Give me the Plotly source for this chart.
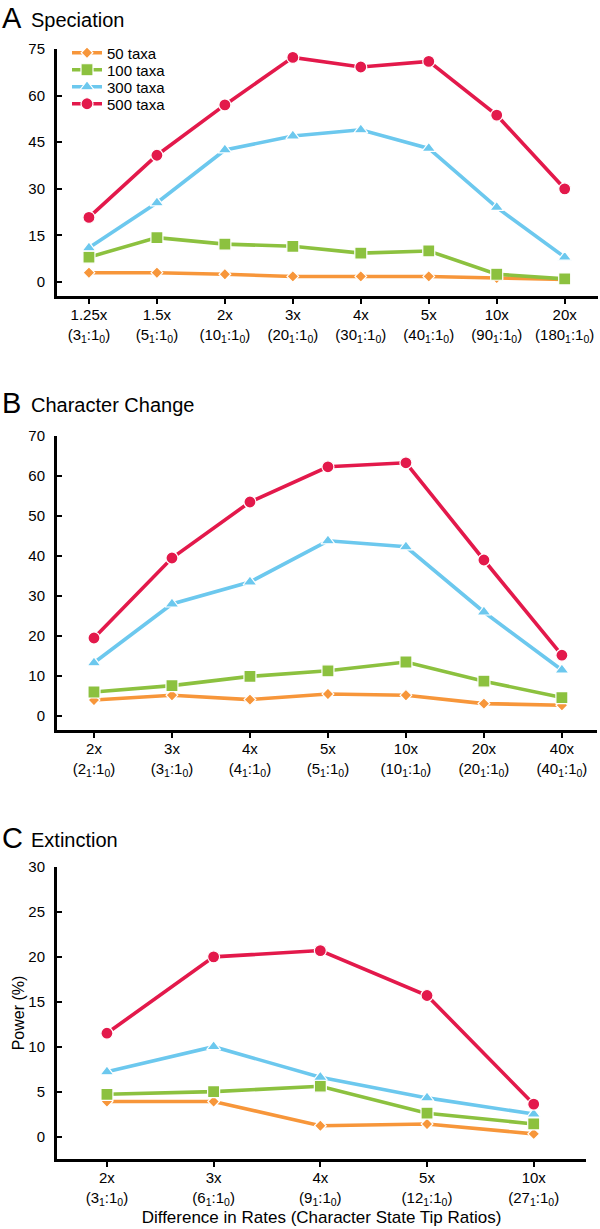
import plotly.graph_objects as go

# ---------------- data ----------------
series_names = ["50 taxa", "100 taxa", "300 taxa", "500 taxa"]

spec_ticks = ["1.25x<br>(3<sub>1</sub>:1<sub>0</sub>)", "1.5x<br>(5<sub>1</sub>:1<sub>0</sub>)",
              "2x<br>(10<sub>1</sub>:1<sub>0</sub>)", "3x<br>(20<sub>1</sub>:1<sub>0</sub>)",
              "4x<br>(30<sub>1</sub>:1<sub>0</sub>)", "5x<br>(40<sub>1</sub>:1<sub>0</sub>)",
              "10x<br>(90<sub>1</sub>:1<sub>0</sub>)", "20x<br>(180<sub>1</sub>:1<sub>0</sub>)"]
spec_50 = [3.0, 3.0, 2.5, 1.8, 1.8, 1.8, 1.3, 0.8]
spec_100 = [8.0, 14.3, 12.2, 11.5, 9.3, 10.0, 2.5, 1.0]
spec_300 = [11.0, 25.5, 42.5, 47.0, 49.0, 43.0, 24.0, 8.0]
spec_500 = [20.8, 40.8, 57.0, 72.3, 69.2, 71.0, 53.7, 30.0]

char_ticks = ["2x<br>(2<sub>1</sub>:1<sub>0</sub>)", "3x<br>(3<sub>1</sub>:1<sub>0</sub>)",
              "4x<br>(4<sub>1</sub>:1<sub>0</sub>)", "5x<br>(5<sub>1</sub>:1<sub>0</sub>)",
              "10x<br>(10<sub>1</sub>:1<sub>0</sub>)", "20x<br>(20<sub>1</sub>:1<sub>0</sub>)",
              "40x<br>(40<sub>1</sub>:1<sub>0</sub>)"]
char_50 = [4.0, 5.2, 4.1, 5.5, 5.2, 3.1, 2.7]
char_100 = [6.0, 7.6, 9.9, 11.3, 13.5, 8.7, 4.6]
char_300 = [13.3, 28.0, 33.5, 43.8, 42.3, 26.0, 11.5]
char_500 = [19.5, 39.5, 53.5, 62.3, 63.3, 39.0, 15.2]

ext_ticks = ["2x<br>(3<sub>1</sub>:1<sub>0</sub>)", "3x<br>(6<sub>1</sub>:1<sub>0</sub>)",
             "4x<br>(9<sub>1</sub>:1<sub>0</sub>)", "5x<br>(12<sub>1</sub>:1<sub>0</sub>)",
             "10x<br>(27<sub>1</sub>:1<sub>0</sub>)"]
ext_50 = [3.9, 3.9, 1.2, 1.4, 0.3]
ext_100 = [4.7, 5.0, 5.6, 2.6, 1.4]
ext_300 = [7.2, 10.0, 6.6, 4.3, 2.5]
ext_500 = [11.5, 20.0, 20.7, 15.7, 3.6]

# ---------------- style ----------------
colors = ["#F7963A", "#8CC13F", "#6CC8EE", "#E3194B"]
symbols = ["diamond", "square", "triangle-up", "circle"]
msizes = [9, 12, 12, 12]
FONT = "Liberation Sans, Arial, Helvetica, sans-serif"
W, H = 600, 1229
legend_ids = ["legend", "legend2", "legend3", "legend4"]
legend_rows_px = [53, 70, 87, 104]


def py(px):
    return 1 - px / H


fig = go.Figure()
panels = [
    (spec_ticks, [spec_50, spec_100, spec_300, spec_500], "x", "y"),
    (char_ticks, [char_50, char_100, char_300, char_500], "x2", "y2"),
    (ext_ticks, [ext_50, ext_100, ext_300, ext_500], "x3", "y3"),
]
for p, (ticks, vals, xa, ya) in enumerate(panels):
    for s in range(4):
        fig.add_trace(go.Scatter(
            x=list(range(len(ticks))), y=vals[s], xaxis=xa, yaxis=ya,
            mode="lines+markers", name=series_names[s], showlegend=(p == 0),
            legend=legend_ids[s],
            line=dict(color=colors[s], width=3.6),
            marker=dict(symbol=symbols[s], size=msizes[s], color=colors[s],
                        line=dict(color="white", width=1.2)),
        ))

axis_common = dict(showline=True, linecolor="black", linewidth=3, showgrid=False,
                   zeroline=False, tickcolor="black", tickwidth=2, ticklen=5,
                   automargin=False)
xtickfont = dict(family=FONT, size=15, color="black")
ytickfont = dict(family=FONT, size=15, color="black")

legend_layout = {}
for s, lid in enumerate(legend_ids):
    legend_layout[lid] = dict(x=67 / W, y=py(legend_rows_px[s]), xanchor="left",
                              yanchor="middle", font=dict(family=FONT, size=15),
                              bgcolor="rgba(0,0,0,0)", borderwidth=0)

fig.update_layout(
    width=W, height=H, margin=dict(l=0, r=0, t=0, b=0, pad=0),
    paper_bgcolor="white", plot_bgcolor="white",
    font=dict(family=FONT, color="black"),
    **legend_layout,
    # Panel A
    xaxis=dict(domain=[57 / W, 598 / W], range=[-0.47, 7.49], anchor="y",
               tickvals=list(range(len(spec_ticks))), ticktext=spec_ticks,
               ticks="outside", ticklabelstandoff=-2, tickfont=xtickfont, **axis_common),
    yaxis=dict(domain=[py(296), py(49)], range=[-4.5, 75], anchor="x",
               tickvals=[0, 15, 30, 45, 60, 75], ticks="inside",
               ticklabelstandoff=6, tickfont=ytickfont, **axis_common),
    # Panel B
    xaxis2=dict(domain=[57 / W, 597 / W], range=[-0.474, 6.45], anchor="y2",
                tickvals=list(range(len(char_ticks))), ticktext=char_ticks,
                ticks="outside", ticklabelstandoff=-2, tickfont=xtickfont, **axis_common),
    yaxis2=dict(domain=[py(730), py(436)], range=[-3.5, 70], anchor="x2",
                tickvals=[0, 10, 20, 30, 40, 50, 60, 70], ticks="inside",
                ticklabelstandoff=6, tickfont=ytickfont, **axis_common),
    # Panel C
    xaxis3=dict(domain=[57 / W, 586 / W], range=[-0.468, 4.49], anchor="y3",
                tickvals=list(range(len(ext_ticks))), ticktext=ext_ticks,
                ticks="outside", ticklabelstandoff=-2, tickfont=xtickfont,
                title=dict(text="Difference in Rates (Character State Tip Ratios)",
                           font=dict(family=FONT, size=17), standoff=4),
                **axis_common),
    yaxis3=dict(domain=[py(1159), py(867)], range=[-2.5, 30], anchor="x3",
                tickvals=[0, 5, 10, 15, 20, 25, 30], ticks="inside",
                ticklabelstandoff=6, tickfont=ytickfont,
                title=dict(text="Power (%)", font=dict(family=FONT, size=16), standoff=0),
                **axis_common),
)

# Panel headings
for letter, title, ypx in [("A", "Speciation", 18), ("B", "Character Change", 403),
                           ("C", "Extinction", 838)]:
    fig.add_annotation(x=0, y=py(ypx), xref="paper", yref="paper", xanchor="left",
                       yanchor="middle", showarrow=False, text=letter,
                       font=dict(family=FONT, size=29, color="black"))
    fig.add_annotation(x=29 / W, y=py(ypx + 2), xref="paper", yref="paper", xanchor="left",
                       yanchor="middle", showarrow=False, text=title,
                       font=dict(family=FONT, size=20, color="black"))

fig.write_html("out.html", config={"displayModeBar": False},
               post_script="document.body.style.margin='0px';document.body.style.overflow='hidden';")
